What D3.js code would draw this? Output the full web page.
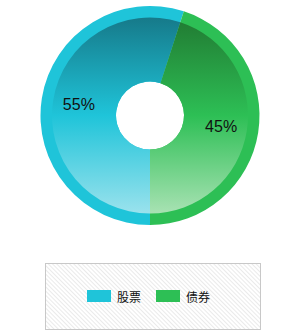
<!DOCTYPE html>
<html><head><meta charset="utf-8">
<script src="https://cdn.jsdelivr.net/npm/d3@7"></script>
<style>body{margin:0;background:#fff}svg{display:block}</style>
</head><body>
<script>
const categories = ["股票", "债券"];
const values = [55, 45];
const baseColors = ["#1fc4d9", "#2dbf55"];
const topColors = ["#167a8a", "#217a32"];
const bottomColors = ["#9ae2ed", "#a8e2b3"];

const W = 300, H = 330, cx = 150, cy = 115.5;
const outerR = 109.5, innerColorR = 98, holeR = 34, labelR = 72;

const svg = d3.select("body").append("svg").attr("width", W).attr("height", H);
const defs = svg.append("defs");

categories.forEach((c, i) => {
  const g = defs.append("linearGradient").attr("id", "grad" + i)
    .attr("gradientUnits", "userSpaceOnUse")
    .attr("x1", 0).attr("y1", -innerColorR).attr("x2", 0).attr("y2", innerColorR);
  g.append("stop").attr("offset", "0%").attr("stop-color", topColors[i]);
  g.append("stop").attr("offset", "50%").attr("stop-color", baseColors[i]);
  g.append("stop").attr("offset", "100%").attr("stop-color", bottomColors[i]);
});

const pat = defs.append("pattern").attr("id", "hatch").attr("patternUnits", "userSpaceOnUse")
  .attr("width", 3).attr("height", 3).attr("patternTransform", "rotate(-45)");
pat.append("rect").attr("width", 3).attr("height", 3).attr("fill", "#fff");
pat.append("line").attr("x1", 0).attr("y1", 0).attr("x2", 0).attr("y2", 3)
  .attr("stroke", "#e4e4e4").attr("stroke-width", 1.5);

const pie = d3.pie().sort(null).startAngle(Math.PI).endAngle(3 * Math.PI);
const arcs = pie(values);

const outerArc = d3.arc().innerRadius(holeR).outerRadius(outerR);
const innerArc = d3.arc().innerRadius(holeR).outerRadius(innerColorR);
const labelArc = d3.arc().innerRadius(labelR).outerRadius(labelR);
const total = d3.sum(values);

const gOuter = svg.append("g").attr("transform", `translate(${cx},${cy})`);
gOuter.selectAll("path").data(arcs).join("path")
  .attr("d", outerArc).attr("fill", (d, i) => baseColors[i]);

const gInner = svg.append("g").attr("transform", `translate(${cx},${cy})`);
gInner.selectAll("path").data(arcs).join("path")
  .attr("d", innerArc).attr("fill", (d, i) => `url(#grad${i})`);

const gLbl = svg.append("g").attr("transform", `translate(${cx},${cy})`);
gLbl.selectAll("text").data(arcs).join("text")
  .attr("transform", d => `translate(${labelArc.centroid(d)})`)
  .attr("text-anchor", "middle").attr("dominant-baseline", "central")
  .attr("font-family", "Liberation Sans, Arial, sans-serif").attr("font-size", 16)
  .attr("fill", "#111")
  .text(d => Math.round(d.data / total * 100) + "%");

// legend
svg.append("rect").attr("x", 45.5).attr("y", 263.5).attr("width", 215).attr("height", 66)
  .attr("fill", "url(#hatch)").attr("stroke", "#c8c8c8").attr("stroke-width", 1);

const legX = [87, 156];
const leg = svg.append("g");
categories.forEach((c, i) => {
  leg.append("rect").attr("x", legX[i]).attr("y", 290).attr("width", 24).attr("height", 12)
    .attr("fill", baseColors[i]);
  leg.append("text").attr("x", legX[i] + 30).attr("y", 296)
    .attr("dominant-baseline", "central")
    .attr("font-family", "Noto Sans CJK SC, sans-serif").attr("font-size", 12)
    .attr("fill", "#111").text(c);
});
</script>
</body></html>
